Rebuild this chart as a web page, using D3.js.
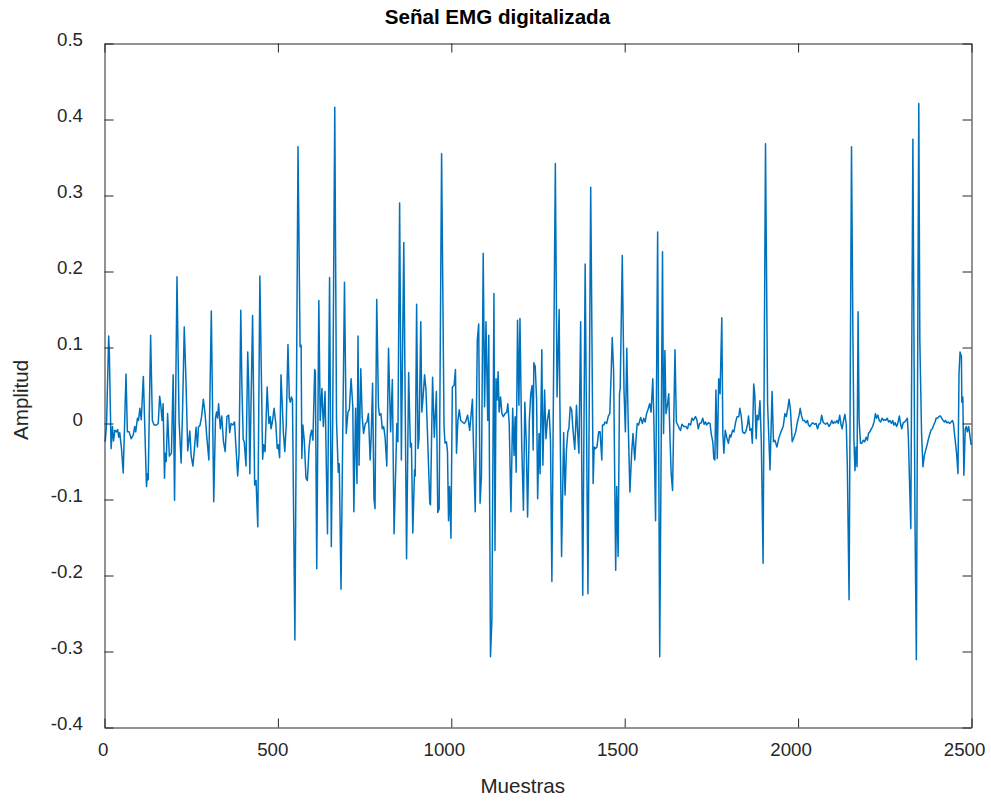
<!DOCTYPE html>
<html>
<head>
<meta charset="utf-8">
<script src="https://cdn.jsdelivr.net/npm/d3@7/dist/d3.min.js"></script>
<style>
  body { margin: 0; background: #fff; }
  text { font-family: "Liberation Sans", Arial, Helvetica, sans-serif; fill: #262626; }
</style>
</head>
<body>
<svg id="chart" width="991" height="802"></svg>
<script>
// Señal EMG: [muestra, amplitud]
const emgSamples = [
  [2,-0.024],[6,0],[12,0.115],[14,0.092],[19,-0.033],[23,-0.004],[26,-0.023],[30,-0.009],[35,-0.011],[38,-0.008],
  [41,-0.018],[44,-0.012],[49,-0.033],[54,-0.065],[62,0.065],[66,-0.011],[71,-0.011],[77,-0.020],[83,-0.015],[87,-0.004],
  [90,-0.011],[95,0.007],[98,0.004],[102,0.020],[106,0.005],[112,0.062],[116,-0.002],[121,-0.083],[124,-0.066],[126,-0.074],
  [133,0.116],[138,0.004],[143,-0.002],[150,-0.002],[155,0],[159,0.036],[162,0.026],[166,0.004],[169,0.026],[173,-0.072],
  [175,-0.039],[178,-0.050],[182,0.013],[187,-0.043],[193,-0.039],[198,0.064],[202,-0.101],[209,0.193],[215,0.004],[221,-0.052],
  [225,0.015],[230,0.127],[235,0.055],[240,-0.036],[246,-0.010],[250,-0.043],[255,-0.056],[259,-0.035],[264,-0.005],[268,-0.031],
  [271,-0.004],[275,-0.003],[280,0.009],[285,0.032],[290,0.013],[295,-0.018],[301,-0.048],[308,0.148],[315,-0.103],[320,0.007],
  [323,0.015],[326,0.007],[329,0.026],[334,-0.007],[338,0.010],[343,-0.024],[348,-0.037],[353,0.009],[358,0.011],[361,-0.012],
  [365,0],[370,-0.002],[375,0.002],[379,-0.031],[384,-0.069],[388,-0.039],[393,0.149],[396,0.053],[400,-0.021],[403,-0.024],
  [408,-0.056],[413,0.094],[416,0.048],
  [419,-0.066],[427,0.142],[433,-0.081],[437,-0.075],[442,-0.136],[448,0.194],[456,-0.047],[459,-0.028],[463,-0.037],[469,0.048],
  [474,0],[478,0.009],[480,-0.007],[484,0.002],[489,0.020],[494,0],[498,-0.033],[501,-0.028],[505,-0.045],[509,0.064],
  [516,-0.013],[520,-0.037],[524,-0.002],[529,0.104],[533,0.033],[536,0.028],[539,0.035],[542,0.031],[549,-0.285],[558,0.364],
  [564,0.101],[567,0.103],[569,-0.046],[572,-0.002],[576,-0.022],[581,-0.072],[585,-0.075],[590,-0.031],[594,-0.015],[597,-0.009],
  [601,-0.022],[606,0.071],[608,0.068],[612,-0.191],[618,0.162],[622,0.004],[627,0.046],[631,-0.004],[636,0.042],[643,-0.145],
  [649,0.192],[654,-0.162],[658,0.004],[664,0.416],[669,0.004],[674,-0.064],[677,-0.053],[682,-0.218],[692,0.186],[697,-0.013],
  [702,0.015],[706,0.018],[711,0.059],[716,0.022],[719,-0.116],[724,0.020],[728,-0.079],[731,0.115],[734,-0.055],[739,0.072],
  [743,0.009],[747,-0.013],[752,0],[757,0.002],[761,0.013],[766,-0.048],[769,-0.018],[773,0.053],[777,-0.099],[780,-0.112],
  [785,0.163],[790,0.022],[793,0.011],[797,0.013],[801,-0.007],[805,-0.004],[809,-0.018],[814,-0.056],[819,0.099],[825,-0.011],
  [830,0.058],[835,-0.145],
  [843,0],[846,-0.024],[851,0.290],[856,-0.048],[863,0.238],[871,-0.178],[877,0.067],[882,-0.031],[885,-0.026],[889,-0.144],
  [894,-0.061],[896,-0.069],[900,0.157],[904,-0.033],[907,-0.020],[912,0.134],[915,0.015],[918,0.031],[923,0.064],[927,0.044],
  [931,-0.009],[938,-0.105],[940,-0.107],[946,0.061],[951,-0.018],[957,0.042],[961,-0.117],[965,-0.112],[972,0.355],[979,-0.004],
  [982,-0.026],[986,-0.024],[989,-0.037],[992,-0.128],[995,-0.083],[999,-0.151],[1003,0.048],[1008,0.050],[1012,0.071],[1015,-0.039],
  [1019,0.004],[1023,0.018],[1027,0.004],[1032,0.002],[1037,0],[1041,0.002],[1047,0.011],[1053,-0.009],[1057,0.011],[1061,0.032],
  [1064,-0.031],[1069,-0.116],[1075,0.110],[1079,0.131],[1083,-0.105],[1087,-0.068],[1092,0.224],[1096,0.022],[1100,0.134],[1105,0.004],
  [1108,0.116],[1113,-0.307],[1117,-0.259],[1123,0.171],[1126,-0.167],[1129,0.059],[1132,0.031],[1135,0.068],[1138,0.015],[1142,0.035],
  [1146,0.013],[1150,0.009],[1155,0.013],[1160,0.015],[1163,0.026],[1167,0],[1172,-0.116],[1177,0.020],[1181,-0.042],[1184,0.009],
  [1187,-0.064],[1191,0.136],[1195,0.024],[1198,0.138],[1203,-0.026],[1208,-0.114],[1212,0.028],[1216,-0.022],[1220,-0.123],[1225,0.004],
  [1229,0.039],[1233,0.050],[1236,-0.035],[1238,0.080],[1242,0.075],[1246,0.031],[1249,-0.099],[1253,-0.013],
  [1256,-0.066],[1261,0.097],[1264,-0.055],[1269,0.044],[1273,-0.020],[1277,0.004],[1282,0.018],[1286,-0.022],[1290,-0.208],[1300,0.342],
  [1305,0.035],[1311,0.150],[1313,0.031],[1318,-0.175],[1324,-0.012],[1328,-0.094],[1332,-0.035],[1336,-0.011],[1339,-0.007],[1343,0.022],
  [1347,0.018],[1351,-0.009],[1356,-0.034],[1361,0.024],[1364,-0.009],[1368,-0.039],[1373,0.134],[1379,-0.226],[1386,0.210],[1394,-0.224],
  [1402,0.311],[1409,-0.079],[1412,-0.031],[1416,-0.033],[1420,-0.031],[1425,-0.011],[1429,-0.011],[1434,-0.048],[1436,-0.002],[1440,-0.002],
  [1443,0.002],[1448,0],[1453,0.010],[1457,0.013],[1461,0.066],[1464,0.113],[1468,0.070],[1474,-0.193],[1477,-0.083],[1481,-0.175],
  [1485,0.039],[1487,0.046],[1493,0.221],[1498,0.044],[1502,-0.011],[1506,0.099],[1510,0.004],[1515,-0.090],[1520,-0.039],[1524,-0.013],
  [1529,-0.048],[1533,-0.018],[1536,0],[1540,-0.002],[1546,0.008],[1551,0],[1555,0.007],[1559,0.002],[1563,0.013],[1567,0.018],
  [1572,0.026],[1576,0.015],[1581,0.059],[1584,0.007],[1589,-0.128],[1595,0.252],[1601,-0.307],[1609,0.226],[1612,-0.013],[1616,0.096],
  [1619,0.013],[1623,0.024],[1627,0.039],[1631,-0.024],[1634,-0.066],[1638,-0.088],[1645,0.097],[1649,0.002],[1655,-0.004],[1658,-0.007],
  [1661,-0.009],[1665,-0.001],[1671,-0.004],
  [1676,-0.004],[1681,-0.007],[1685,0],[1690,-0.002],[1694,0.007],[1698,0.004],[1704,0.009],[1708,0.005],[1712,-0.007],[1716,0],
  [1721,0.001],[1725,0.007],[1729,-0.001],[1733,0.002],[1736,-0.002],[1741,0.001],[1746,0],[1750,-0.015],[1754,-0.024],[1757,-0.046],
  [1760,-0.048],[1763,0.044],[1767,-0.046],[1771,0.059],[1775,0.039],[1780,0.139],[1783,-0.013],[1786,-0.039],[1790,-0.009],[1794,-0.018],
  [1799,-0.026],[1803,-0.015],[1806,-0.018],[1811,-0.009],[1815,-0.011],[1820,0.002],[1824,0.009],[1829,0.009],[1832,0.020],[1836,0.010],
  [1840,-0.011],[1845,-0.013],[1849,-0.011],[1854,-0.002],[1857,0.010],[1861,-0.009],[1865,-0.007],[1868,-0.026],[1872,0.052],[1875,0.039],
  [1879,-0.020],[1882,0.011],[1886,0.005],[1890,0.030],[1894,-0.024],[1899,-0.184],[1906,0.368],[1912,0.026],[1919,-0.061],[1925,0.042],
  [1929,-0.024],[1933,-0.022],[1939,-0.031],[1944,-0.020],[1949,-0.013],[1954,-0.007],[1957,-0.004],[1962,0.013],[1966,0.009],[1971,0.022],
  [1974,0.032],[1978,0.018],[1983,-0.024],[1988,-0.018],[1993,-0.011],[1998,0.002],[2003,0.011],[2006,0.020],[2010,0.010],[2014,0.004],
  [2018,0.004],[2023,0.001],[2027,0.004],[2030,-0.002],[2034,-0.004],[2038,-0.001],[2042,0.001],[2047,-0.001],[2052,0],[2056,-0.007],
  [2060,-0.001],[2064,0],[2068,0.011],[2072,0.002],[2076,0],[2079,-0.001],[2084,0.001],
  [2089,-0.004],[2093,-0.001],[2097,0.004],[2101,0],[2104,0.002],[2108,0.001],[2112,0.004],[2116,0],[2120,0.011],[2124,-0.002],
  [2127,-0.007],[2131,0.004],[2135,0.012],[2139,-0.002],[2142,-0.057],[2147,-0.232],[2154,0.364],[2158,0.118],[2161,-0.022],[2164,-0.062],
  [2167,-0.031],[2170,-0.057],[2173,0.147],[2176,0.004],[2180,-0.026],[2184,-0.026],[2188,-0.022],[2192,-0.024],[2196,-0.018],[2200,-0.022],
  [2203,-0.013],[2207,-0.011],[2211,-0.007],[2215,-0.004],[2219,0.002],[2223,0.013],[2226,0.007],[2230,0.011],[2234,0.004],[2238,0.002],
  [2242,0.007],[2246,0.004],[2249,0.005],[2253,0.004],[2257,0.007],[2261,0.002],[2265,0.004],[2269,0],[2273,0.004],[2276,-0.002],
  [2280,0.001],[2284,-0.004],[2288,0.001],[2292,0.010],[2296,-0.002],[2299,-0.007],[2303,0.001],[2307,0.002],[2311,0.004],[2315,0.007],
  [2318,-0.018],[2322,-0.088],[2325,-0.138],[2331,0.374],[2334,0.118],[2337,-0.123],[2341,-0.311],[2348,0.421],[2351,0.110],[2356,-0.013],
  [2360,-0.057],[2364,-0.042],[2368,-0.035],[2372,-0.028],[2375,-0.022],[2379,-0.015],[2383,-0.009],[2387,-0.007],[2391,-0.002],[2395,0.002],
  [2398,0.007],[2402,0.007],[2406,0.009],[2410,0.010],[2414,0.007],[2418,0.004],[2422,0.002],[2425,0.004],[2429,0.001],[2433,0.002],
  [2437,0],[2441,0.002],[2445,0.004],[2448,0],[2452,-0.018],[2457,-0.039],[2461,-0.066],[2464,0.066],[2467,0.094],[2471,0.088],
  [2472,0.028],[2475,0.035],[2478,-0.068],[2482,-0.007],[2485,-0.004],[2488,-0.011],[2492,-0.004],[2496,-0.018],[2499,-0.028]
];

const xTicks = [0, 500, 1000, 1500, 2000, 2500];
const yTicks = [-0.4, -0.3, -0.2, -0.1, 0, 0.1, 0.2, 0.3, 0.4, 0.5];
const yTickLabels = ["-0.4", "-0.3", "-0.2", "-0.1", "0", "0.1", "0.2", "0.3", "0.4", "0.5"];

const svg = d3.select("#chart");
const margin = {top: 43.5, right: 19.5, bottom: 74.5, left: 104.5};
const width = 991 - margin.left - margin.right;
const height = 802 - margin.top - margin.bottom;
const axisColor = "#262626";
const fontSize = 18.7;
const labelSize = 20.6; // matlab labels are 1.1x the tick font

const x = d3.scaleLinear().domain([0, 2500]).range([0, width]);
const y = d3.scaleLinear().domain([-0.4, 0.5]).range([height, 0]);

const g = svg.append("g").attr("transform", `translate(${margin.left},${margin.top})`);

// signal
const line = d3.line().x(d => x(d[0])).y(d => y(d[1]));
g.append("path")
  .datum(emgSamples)
  .attr("fill", "none")
  .attr("stroke", "#0072BD")
  .attr("stroke-width", 1.5)
  .attr("stroke-linejoin", "round")
  .attr("d", line);

// axes, ticks pointing inward like matlab
function styleAxis(sel) {
  sel.select(".domain").attr("stroke", axisColor);
  sel.selectAll(".tick line").attr("stroke", axisColor);
  sel.selectAll(".tick text").attr("fill", axisColor).style("font-size", fontSize + "px");
}

const xAxis = g.append("g")
  .attr("transform", `translate(0,${height})`)
  .call(d3.axisBottom(x).tickValues(xTicks).tickFormat(d3.format("d")).tickSize(-9).tickSizeOuter(0).tickPadding(15))
  .call(styleAxis);
xAxis.selectAll(".tick text").attr("dx", function() { return (-0.1 * this.textContent.length) + "em"; });

g.append("g")
  .call(d3.axisTop(x).tickValues(xTicks).tickFormat("").tickSize(-9).tickSizeOuter(0))
  .call(styleAxis);

const yAxis = g.append("g")
  .call(d3.axisLeft(y).tickValues(yTicks).tickFormat((d, i) => yTickLabels[i]).tickSize(-9).tickSizeOuter(0).tickPadding(21.5))
  .call(styleAxis);
yAxis.selectAll(".tick text").attr("dy", "0.08em");

g.append("g")
  .attr("transform", `translate(${width},0)`)
  .call(d3.axisRight(y).tickValues(yTicks).tickFormat("").tickSize(-9).tickSizeOuter(0))
  .call(styleAxis);

// the reference export shifts centred text back by about 18% of its width
function shiftBack(sel) {
  sel.attr("dx", -0.18 * sel.node().getComputedTextLength());
}

// title and labels
svg.append("text")
  .attr("x", margin.left + width / 2)
  .attr("y", 24)
  .attr("text-anchor", "middle")
  .style("font-size", labelSize + "px")
  .style("font-weight", "bold")
  .style("fill", "#000")
  .text("Señal EMG digitalizada")
  .call(shiftBack);

svg.append("text")
  .attr("x", margin.left + width / 2)
  .attr("y", 793)
  .attr("text-anchor", "middle")
  .style("font-size", labelSize + "px")
  .text("Muestras")
  .call(shiftBack);

svg.append("text")
  .attr("transform", `translate(28,${margin.top + height / 2}) rotate(-90)`)
  .attr("text-anchor", "middle")
  .style("font-size", labelSize + "px")
  .text("Amplitud")
  .call(shiftBack);
</script>
</body>
</html>
